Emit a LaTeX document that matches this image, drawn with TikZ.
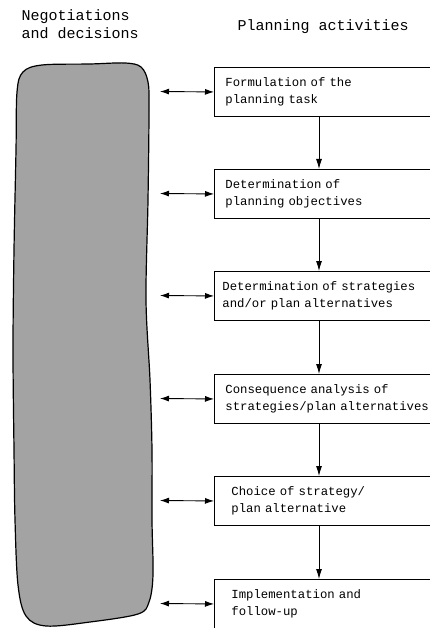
\documentclass[tikz,border=0pt]{standalone}
\usepackage{fontspec}
\setmonofont{Liberation Mono}
\usetikzlibrary{arrows.meta}
\begin{document}
\begin{tikzpicture}
	[
	x=1pt, y=1pt,
	act/.style={draw = black, line width = 0.9pt, shape = rectangle, anchor = north west, minimum height = 49pt, text width = 230pt, inner xsep = 11pt, align = left, font = \ttfamily\fontsize{12.3}{17}\selectfont},
	hd/.style={anchor = west, align = left, font = \ttfamily\fontsize{15}{18}\selectfont},
	link/.style={line width = 0.9pt, {Latex[length=9pt,width=6pt]}-{Latex[length=9pt,width=6pt]}},
	flow/.style={line width = 0.9pt, -{Latex[length=10pt,width=6pt]}},
	blob/.style={draw = black, line width = 1.2pt, fill = black!36}
	]
	\useasboundingbox (0,0) rectangle (429,-628);
	
	% Headings
	\node[hd](neg) at (18,-24){Negotiations\\and decisions};
	\node[hd](plan) at (234,-27){Planning activities};
	
	% Negotiations column
	\draw[blob] plot[smooth cycle, tension=0.55] coordinates {
		(17,-92) (23,-72) (42,-65) (90,-64) (125,-63) (141,-67) (148,-82)
		(149,-110) (148,-200) (146,-300) (150,-380) (152,-450) (152,-520)
		(153,-575) (149,-602) (138,-614) (90,-622) (46,-626) (26,-616)
		(18,-585) (15,-520) (14,-450) (13,-350) (14,-250) (16,-150)};
	
	% From up to down
	\node[act](f1) at (214,-67){Formulation of the\\planning task};
	\node[act](f2) at (214,-169){Determination of\\planning objectives};
	\node[act, inner xsep=8pt](f3) at (214,-271){Determination of strategies\\and/or plan alternatives};
	\node[act](f4) at (214,-374){Consequence analysis of\\strategies/plan alternatives};
	\node[act, inner xsep=17pt](f5) at (214,-476){Choice of strategy/\\plan alternative};
	\node[act, inner xsep=17pt](f6) at (214,-579){Implementation and\\follow-up};
	
	% Free ends at the negotiations column
	\coordinate (n1) at (160,-91.5);
	\coordinate (n2) at (160,-193.5);
	\coordinate (n3) at (160,-295.5);
	\coordinate (n4) at (160,-398.5);
	\coordinate (n5) at (160,-500.5);
	\coordinate (n6) at (160,-603.5);
	\coordinate (mid) at (319,0);
	
	\draw[link] (n1) -- (f1.west);
	\draw[link] (n2) -- (f2.west);
	\draw[link] (n3) -- (f3.west);
	\draw[link] (n4) -- (f4.west);
	\draw[link] (n5) -- (f5.west);
	\draw[link] (n6) -- (f6.west);
	
	\draw[flow] (f1.south -| mid) -- (f2.north -| mid);
	\draw[flow] (f2.south -| mid) -- (f3.north -| mid);
	\draw[flow] (f3.south -| mid) -- (f4.north -| mid);
	\draw[flow] (f4.south -| mid) -- (f5.north -| mid);
	\draw[flow] (f5.south -| mid) -- (f6.north -| mid);
\end{tikzpicture}
\end{document}
